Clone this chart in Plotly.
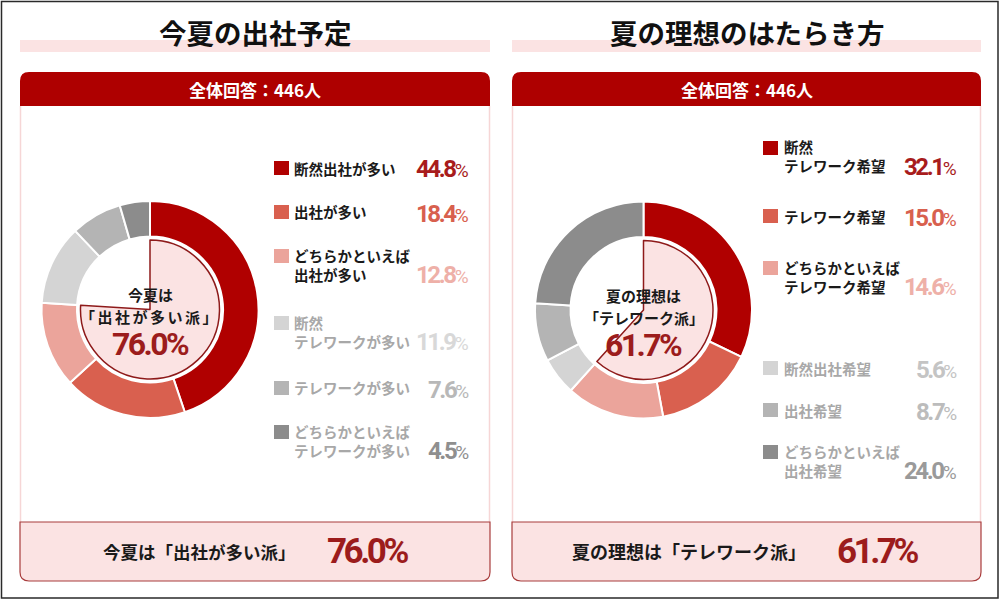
import plotly.graph_objects as go

# ---------------- data ----------------
left_title = "今夏の出社予定"
right_title = "夏の理想のはたらき方"
header_text = "全体回答：446人"

left_labels = ["断然出社が多い", "出社が多い", "どちらかといえば<br>出社が多い",
               "断然<br>テレワークが多い", "テレワークが多い", "どちらかといえば<br>テレワークが多い"]
left_values = [44.8, 18.4, 12.8, 11.9, 7.6, 4.5]
left_share_label = ["今夏は", "「出社が多い派」"]
left_share = 76.0
left_summary = "今夏は「出社が多い派」"

right_labels = ["断然<br>テレワーク希望", "テレワーク希望", "どちらかといえば<br>テレワーク希望",
                "断然出社希望", "出社希望", "どちらかといえば<br>出社希望"]
right_values = [32.1, 15.0, 14.6, 5.6, 8.7, 24.0]
right_share_label = ["夏の理想は", "「テレワーク派」"]
right_share = 61.7
right_summary = "夏の理想は「テレワーク派」"

# ---------------- styles ----------------
W, H = 1000, 600
slice_colors = ["#b00000", "#d9604f", "#eba49b", "#d4d4d4", "#b4b4b4", "#8c8c8c"]
value_colors_left = ["#a81c1c", "#d8604e", "#eeb0a8", "#d8d8d8", "#b8b8b8", "#8f8f8f"]
value_colors_right = ["#a81c1c", "#d8604e", "#eeb0a8", "#c4c4c4", "#bcbcbc", "#9a9a9a"]
label_colors = ["#1a1a1a", "#1a1a1a", "#1a1a1a", "#a8a8a8", "#a8a8a8", "#a8a8a8"]
RED = "#ae0000"
PINK = "#fbe3e3"
JP = "Noto Sans CJK JP, Noto Sans, sans-serif"
NUM = "Roboto, Liberation Sans, sans-serif"


def px(x):
    return x / W


def py(y):
    return 1 - y / H


fig = go.Figure()
shapes = []
annotations = []


def add_text(x, y, text, size, color, family=JP, xanchor="center", bold=True):
    annotations.append(dict(
        x=px(x), y=py(y), xref="paper", yref="paper", showarrow=False,
        text=(f"<b>{text}</b>" if bold else text), xanchor=xanchor, yanchor="middle",
        align="left" if xanchor == "left" else "center",
        font=dict(size=size, color=color, family=family)))


def num_text(value, ls, pct_size=None, pct_ls=0):
    """condensed-looking percentage: bold number with tightened tracking"""
    if pct_size is None:
        return f"<b><span style='letter-spacing:{ls}px'>{value:.1f}%</span></b>"
    return (f"<b><span style='letter-spacing:{ls}px'>{value:.1f}</span></b>"
            f"<span style='font-size:{pct_size}px;letter-spacing:{pct_ls}px'>%</span>")


def panel(x0, x1, title):
    cx = (x0 + x1) / 2
    shapes.append(dict(type="rect", xref="paper", yref="paper", x0=px(x0), x1=px(x1),
                       y0=py(52), y1=py(40), fillcolor=PINK, line=dict(width=0), layer="below"))
    add_text(cx, 32, title, 27.5, "#111111")
    r = 9
    y0, y1 = 72, 106
    path = (f"M {px(x0)},{py(y1)} L {px(x0)},{py(y0 + r)} Q {px(x0)},{py(y0)} {px(x0 + r)},{py(y0)} "
            f"L {px(x1 - r)},{py(y0)} Q {px(x1)},{py(y0)} {px(x1)},{py(y0 + r)} L {px(x1)},{py(y1)} Z")
    shapes.append(dict(type="path", xref="paper", yref="paper", path=path,
                       fillcolor=RED, line=dict(width=0), layer="below"))
    add_text(cx, 89.5, header_text, 17, "#ffffff")
    for xx in (x0 + 0.5, x1 - 0.5):
        shapes.append(dict(type="line", xref="paper", yref="paper", x0=px(xx), x1=px(xx),
                           y0=py(106), y1=py(522), line=dict(color="#f6d6d6", width=1.5), layer="below"))
    b0, b1 = 522, 581
    path = (f"M {px(x0)},{py(b0)} L {px(x1)},{py(b0)} L {px(x1)},{py(b1 - r)} "
            f"Q {px(x1)},{py(b1)} {px(x1 - r)},{py(b1)} L {px(x0 + r)},{py(b1)} "
            f"Q {px(x0)},{py(b1)} {px(x0)},{py(b1 - r)} Z")
    shapes.append(dict(type="path", xref="paper", yref="paper", path=path,
                       fillcolor=PINK, line=dict(color="#a83c3c", width=1.2), layer="below"))
    return cx


def donut(cx, cy, values, share, center_lines, line2_ls):
    R = 108.5
    fig.add_trace(go.Pie(
        values=values, sort=False, direction="clockwise", rotation=0, hole=0.673,
        marker=dict(colors=slice_colors, line=dict(color="#ffffff", width=2)),
        textinfo="none", hoverinfo="skip",
        domain=dict(x=[px(cx - R), px(cx + R)], y=[py(cy + R), py(cy - R)])))
    r2 = 69.5
    fig.add_trace(go.Pie(
        values=[share, 100 - share], sort=False, direction="clockwise", rotation=0,
        marker=dict(colors=[PINK, "rgba(0,0,0,0)"],
                    line=dict(color=["#8e1a1a", "rgba(0,0,0,0)"], width=1.5)),
        textinfo="none", hoverinfo="skip",
        domain=dict(x=[px(cx - r2), px(cx + r2)], y=[py(cy + r2), py(cy - r2)])))
    add_text(cx, cy - 15, center_lines[0], 15, "#1a1a1a")
    add_text(cx, cy + 7, f"<span style='letter-spacing:{line2_ls}px'>{center_lines[1]}</span>",
             15, "#1a1a1a")
    add_text(cx, cy + 34.5, num_text(share, -2.6), 32, "#9c1c1c", family=NUM, bold=False)


def legend(sq_x, lab_x, val_x, rows, labels, values, vcolors):
    for i, (yc, lab, v) in enumerate(zip(rows, labels, values)):
        shapes.append(dict(type="rect", xref="paper", yref="paper", x0=px(sq_x), x1=px(sq_x + 15),
                           y0=py(yc + 7), y1=py(yc - 7), fillcolor=slice_colors[i],
                           line=dict(width=0)))
        n = lab.count("<br>") + 1
        add_text(lab_x, yc + 8.5 * (n - 1), lab, 14.5, label_colors[i], xanchor="left")
        vy = yc + 17.5 * (n - 1) + 1.5
        add_text(val_x, vy, num_text(v, -2.4, 19, 0), 24, vcolors[i], family=NUM,
                 xanchor="right", bold=False)


# left panel
panel(20, 490, left_title)
donut(150, 309.5, left_values, left_share, left_share_label, 2.5)
legend(274, 292, 471, [168, 212, 256, 323, 388, 432], left_labels, left_values, value_colors_left)
add_text(199, 551, left_summary, 17.5, "#1a1a1a")
add_text(367, 551, num_text(left_share, -3.5), 35, "#9c1c1c", family=NUM, bold=False)

# right panel
panel(512, 981, right_title)
donut(643.5, 310, right_values, right_share, right_share_label, 0)
legend(763, 782, 959, [148, 216, 268, 368, 410, 452], right_labels, right_values, value_colors_right)
add_text(689, 551, right_summary, 18, "#1a1a1a")
add_text(877, 551, num_text(right_share, -3.5), 35, "#9c1c1c", family=NUM, bold=False)

# outer frame
shapes.append(dict(type="rect", xref="paper", yref="paper", x0=px(1.5), x1=px(998), y0=py(598), y1=py(1.5),
                   line=dict(color="#2a2a2a", width=1.5), fillcolor="rgba(0,0,0,0)"))

fig.update_layout(width=W, height=H, margin=dict(l=0, r=0, t=0, b=0),
                  paper_bgcolor="#ffffff", plot_bgcolor="#ffffff", showlegend=False,
                  shapes=shapes, annotations=annotations)
fig.write_html("out.html")
